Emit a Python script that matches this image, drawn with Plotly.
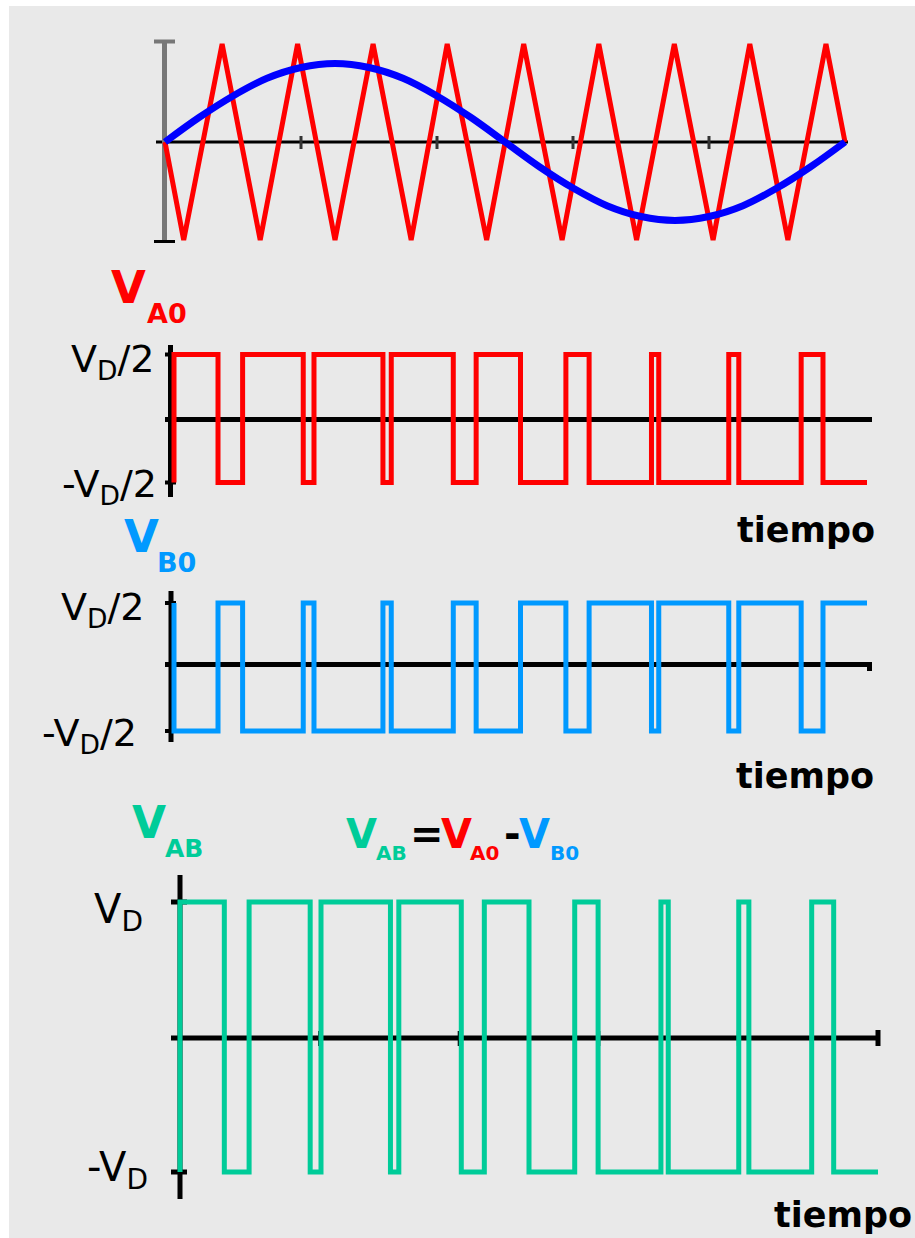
import plotly.graph_objects as go

W, H = 915, 1238
T = 20.0  # one fundamental period (ms)

# ---------------- data ----------------
# modulating sine, sampled every 1 ms over one period (normalised to carrier peak)
sine_t = [0, 1, 2, 3, 4, 5, 6, 7, 8, 9, 10, 11, 12, 13, 14, 15, 16, 17, 18, 19, 20]
sine_v = [0, 0.25, 0.47, 0.65, 0.76, 0.80, 0.76, 0.65, 0.47, 0.25, 0,
          -0.25, -0.47, -0.65, -0.76, -0.80, -0.76, -0.65, -0.47, -0.25, 0]

# triangular carrier vertices
tri_t = [0, 0.55, 1.68, 2.80, 3.90, 5.00, 6.12, 7.24, 8.30, 9.46, 10.55,
         11.68, 12.76, 13.87, 14.98, 16.12, 17.20, 18.32, 19.44, 20]
tri_v = [0, -1, 1, -1, 1, -1, 1, -1, 1, -1, 1, -1, 1, -1, 1, -1, 1, -1, 1, 0]

# switching instants of leg A (ms) and the leg-A output level (in units of V_D)
sw_t = [0, 0, 1.27, 1.98, 3.73, 4.04, 6.03, 6.27, 8.06, 8.72, 10.00,
        11.31, 11.98, 13.78, 13.99, 16.01, 16.30, 18.10, 18.73, 20]
va0 = [-0.5, 0.5, -0.5, 0.5, -0.5, 0.5, -0.5, 0.5, -0.5, 0.5, -0.5,
       0.5, -0.5, 0.5, -0.5, 0.5, -0.5, 0.5, -0.5, -0.5]
vb0 = [-v for v in va0]
vab = [a - b for a, b in zip(va0, vb0)]

# ---------------- styling ----------------
RED = "#ff0000"
BLUE = "#0000ff"
LBLUE = "#0099ff"
GREEN = "#00cc99"
BLACK = "#000000"
GRAY = "#777777"
BG = "#e9e9e9"
FONT = "DejaVu Sans"

# panel geometry (pixels): box L,R,T,B ; t=0 / t=T pixel ; (vhi, px, vlo, px)
panels = {
    1: dict(box=(150, 862, 30, 258), tp=(165, 845), v=(1, 44, -1, 240)),
    2: dict(box=(150, 886, 335, 507), tp=(174, 867), v=(0.5, 354.5, -0.5, 482.5)),
    3: dict(box=(150, 886, 580, 757), tp=(174, 867), v=(0.5, 603, -0.5, 731)),
    4: dict(box=(160, 892, 865, 1205), tp=(180, 878), v=(1, 902, -1, 1172)),
}


def tx(p, px):
    a, b = panels[p]["tp"]
    return (px - a) / (b - a) * T


def vy(p, py):
    vh, ph, vl, pl = panels[p]["v"]
    return vh + (py - ph) / (pl - ph) * (vl - vh)


def refs(p):
    return ("x", "y") if p == 1 else (f"x{p}", f"y{p}")


fig = go.Figure()

# traces
fig.add_trace(go.Scatter(x=tri_t, y=tri_v, mode="lines", line=dict(color=RED, width=5),
                         xaxis="x", yaxis="y", hoverinfo="skip"))
fig.add_trace(go.Scatter(x=sine_t, y=sine_v, mode="lines", line=dict(color=BLUE, width=7, shape="spline"),
                         xaxis="x", yaxis="y", hoverinfo="skip"))
fig.add_trace(go.Scatter(x=sw_t, y=va0, mode="lines", line=dict(color=RED, width=5, shape="hv"),
                         xaxis="x2", yaxis="y2", hoverinfo="skip"))
fig.add_trace(go.Scatter(x=sw_t, y=vb0, mode="lines", line=dict(color=LBLUE, width=5, shape="hv"),
                         xaxis="x3", yaxis="y3", hoverinfo="skip"))
fig.add_trace(go.Scatter(x=sw_t, y=vab, mode="lines", line=dict(color=GREEN, width=5, shape="hv"),
                         xaxis="x4", yaxis="y4", hoverinfo="skip"))

shapes = [dict(type="rect", xref="paper", yref="paper", x0=9 / W, x1=1, y0=0, y1=1 - 6 / H,
               fillcolor=BG, line=dict(width=0), layer="below")]


def seg(p, x0, y0, x1, y1, color=BLACK, width=5):
    xr, yr = refs(p)
    shapes.append(dict(type="line", xref=xr, yref=yr, x0=tx(p, x0), x1=tx(p, x1),
                       y0=vy(p, y0), y1=vy(p, y1), line=dict(color=color, width=width),
                       layer="below"))


def tick_t(p, t, y0, y1, color=BLACK, width=3):
    xr, yr = refs(p)
    shapes.append(dict(type="line", xref=xr, yref=yr, x0=t, x1=t, y0=vy(p, y0), y1=vy(p, y1),
                       line=dict(color=color, width=width), layer="below"))


# panel 1 decorations
seg(1, 156, 142, 848, 142, BLACK, 3)
for t in [4, 8, 12, 16]:
    tick_t(1, t, 136, 149, "#333333", 3)
seg(1, 164.5, 42, 164.5, 242, GRAY, 5)
seg(1, 154, 41.5, 175, 41.5, GRAY, 4)
seg(1, 154, 241.5, 175, 241.5, BLACK, 3)

# panel 2
seg(2, 170.5, 345, 170.5, 497)
seg(2, 165, 354.5, 176, 354.5, BLACK, 4)
seg(2, 165, 482.5, 176, 482.5, BLACK, 4)
seg(2, 165, 419.5, 872, 419.5)

# panel 3
seg(3, 171, 591, 171, 742)
seg(3, 165, 603, 176, 603, BLACK, 4)
seg(3, 165, 731, 176, 731, BLACK, 4)
seg(3, 165, 664.5, 872, 664.5)
seg(3, 869.5, 663, 869.5, 671, BLACK, 5)

# panel 4
seg(4, 180, 875, 180, 1199)
seg(4, 171, 902, 187, 902)
seg(4, 171, 1172, 187, 1172)
seg(4, 171, 1038, 878, 1038)
seg(4, 878, 1030, 878, 1046)
for t in [4, 8, 12, 16]:
    tick_t(4, t, 1031, 1046, BLACK, 3)

# ---------------- text ----------------
annotations = []


def txt(text, left, base, fs, color=BLACK, bold=False):
    top = base - 0.928 * fs - 2
    s = f"<b>{text}</b>" if bold else text
    annotations.append(dict(text=s, x=(left - 2 - 0.03 * fs) / W, y=1 - top / H,
                            xref="paper", yref="paper", xanchor="left", yanchor="top",
                            showarrow=False, font=dict(family=FONT, size=fs, color=color)))


txt("V", 112, 303, 45, RED, True)
txt("A0", 148, 323, 27, RED, True)
txt("V", 125, 552, 45, LBLUE, True)
txt("B0", 158, 572, 27, LBLUE, True)
txt("V", 133, 838, 44, GREEN, True)
txt("AB", 166, 857, 25, GREEN, True)

txt("V", 347, 848, 40, GREEN, True)
txt("AB", 377, 860, 20, GREEN, True)
txt("=", 411, 848, 40, BLACK, True)
txt("V", 442, 848, 40, RED, True)
txt("A0", 471, 860, 20, RED, True)
txt("-", 505, 848, 40, BLACK, True)
txt("V", 520, 848, 40, LBLUE, True)
txt("B0", 551, 860, 20, LBLUE, True)

txt("V<sub>D</sub>/2", 72, 372, 38)
txt("-V<sub>D</sub>/2", 63, 497, 38)
txt("V<sub>D</sub>/2", 62, 620, 38)
txt("-V<sub>D</sub>/2", 43, 746, 38)
txt("V<sub>D</sub>", 95, 923, 40)
txt("-V<sub>D</sub>", 88, 1181, 40)

txt("tiempo", 738, 542, 35, BLACK, True)
txt("tiempo", 737, 788, 35, BLACK, True)
txt("tiempo", 775, 1227, 35, BLACK, True)

# ---------------- axes ----------------
layout_axes = {}
for p, cfg in panels.items():
    L, R, Tp, B = cfg["box"]
    xn = "xaxis" if p == 1 else f"xaxis{p}"
    yn = "yaxis" if p == 1 else f"yaxis{p}"
    xr, yr = refs(p)
    layout_axes[xn] = dict(domain=[L / W, R / W], range=[tx(p, L), tx(p, R)], visible=False,
                           anchor=yr, fixedrange=True)
    layout_axes[yn] = dict(domain=[1 - B / H, 1 - Tp / H], range=[vy(p, B), vy(p, Tp)],
                           visible=False, anchor=xr, fixedrange=True)

fig.update_layout(
    width=W, height=H, autosize=False,
    margin=dict(l=0, r=0, t=0, b=0, pad=0),
    paper_bgcolor="white", plot_bgcolor="rgba(0,0,0,0)",
    showlegend=False,
    shapes=shapes, annotations=annotations,
    **layout_axes,
)

fig.write_html("out.html")
